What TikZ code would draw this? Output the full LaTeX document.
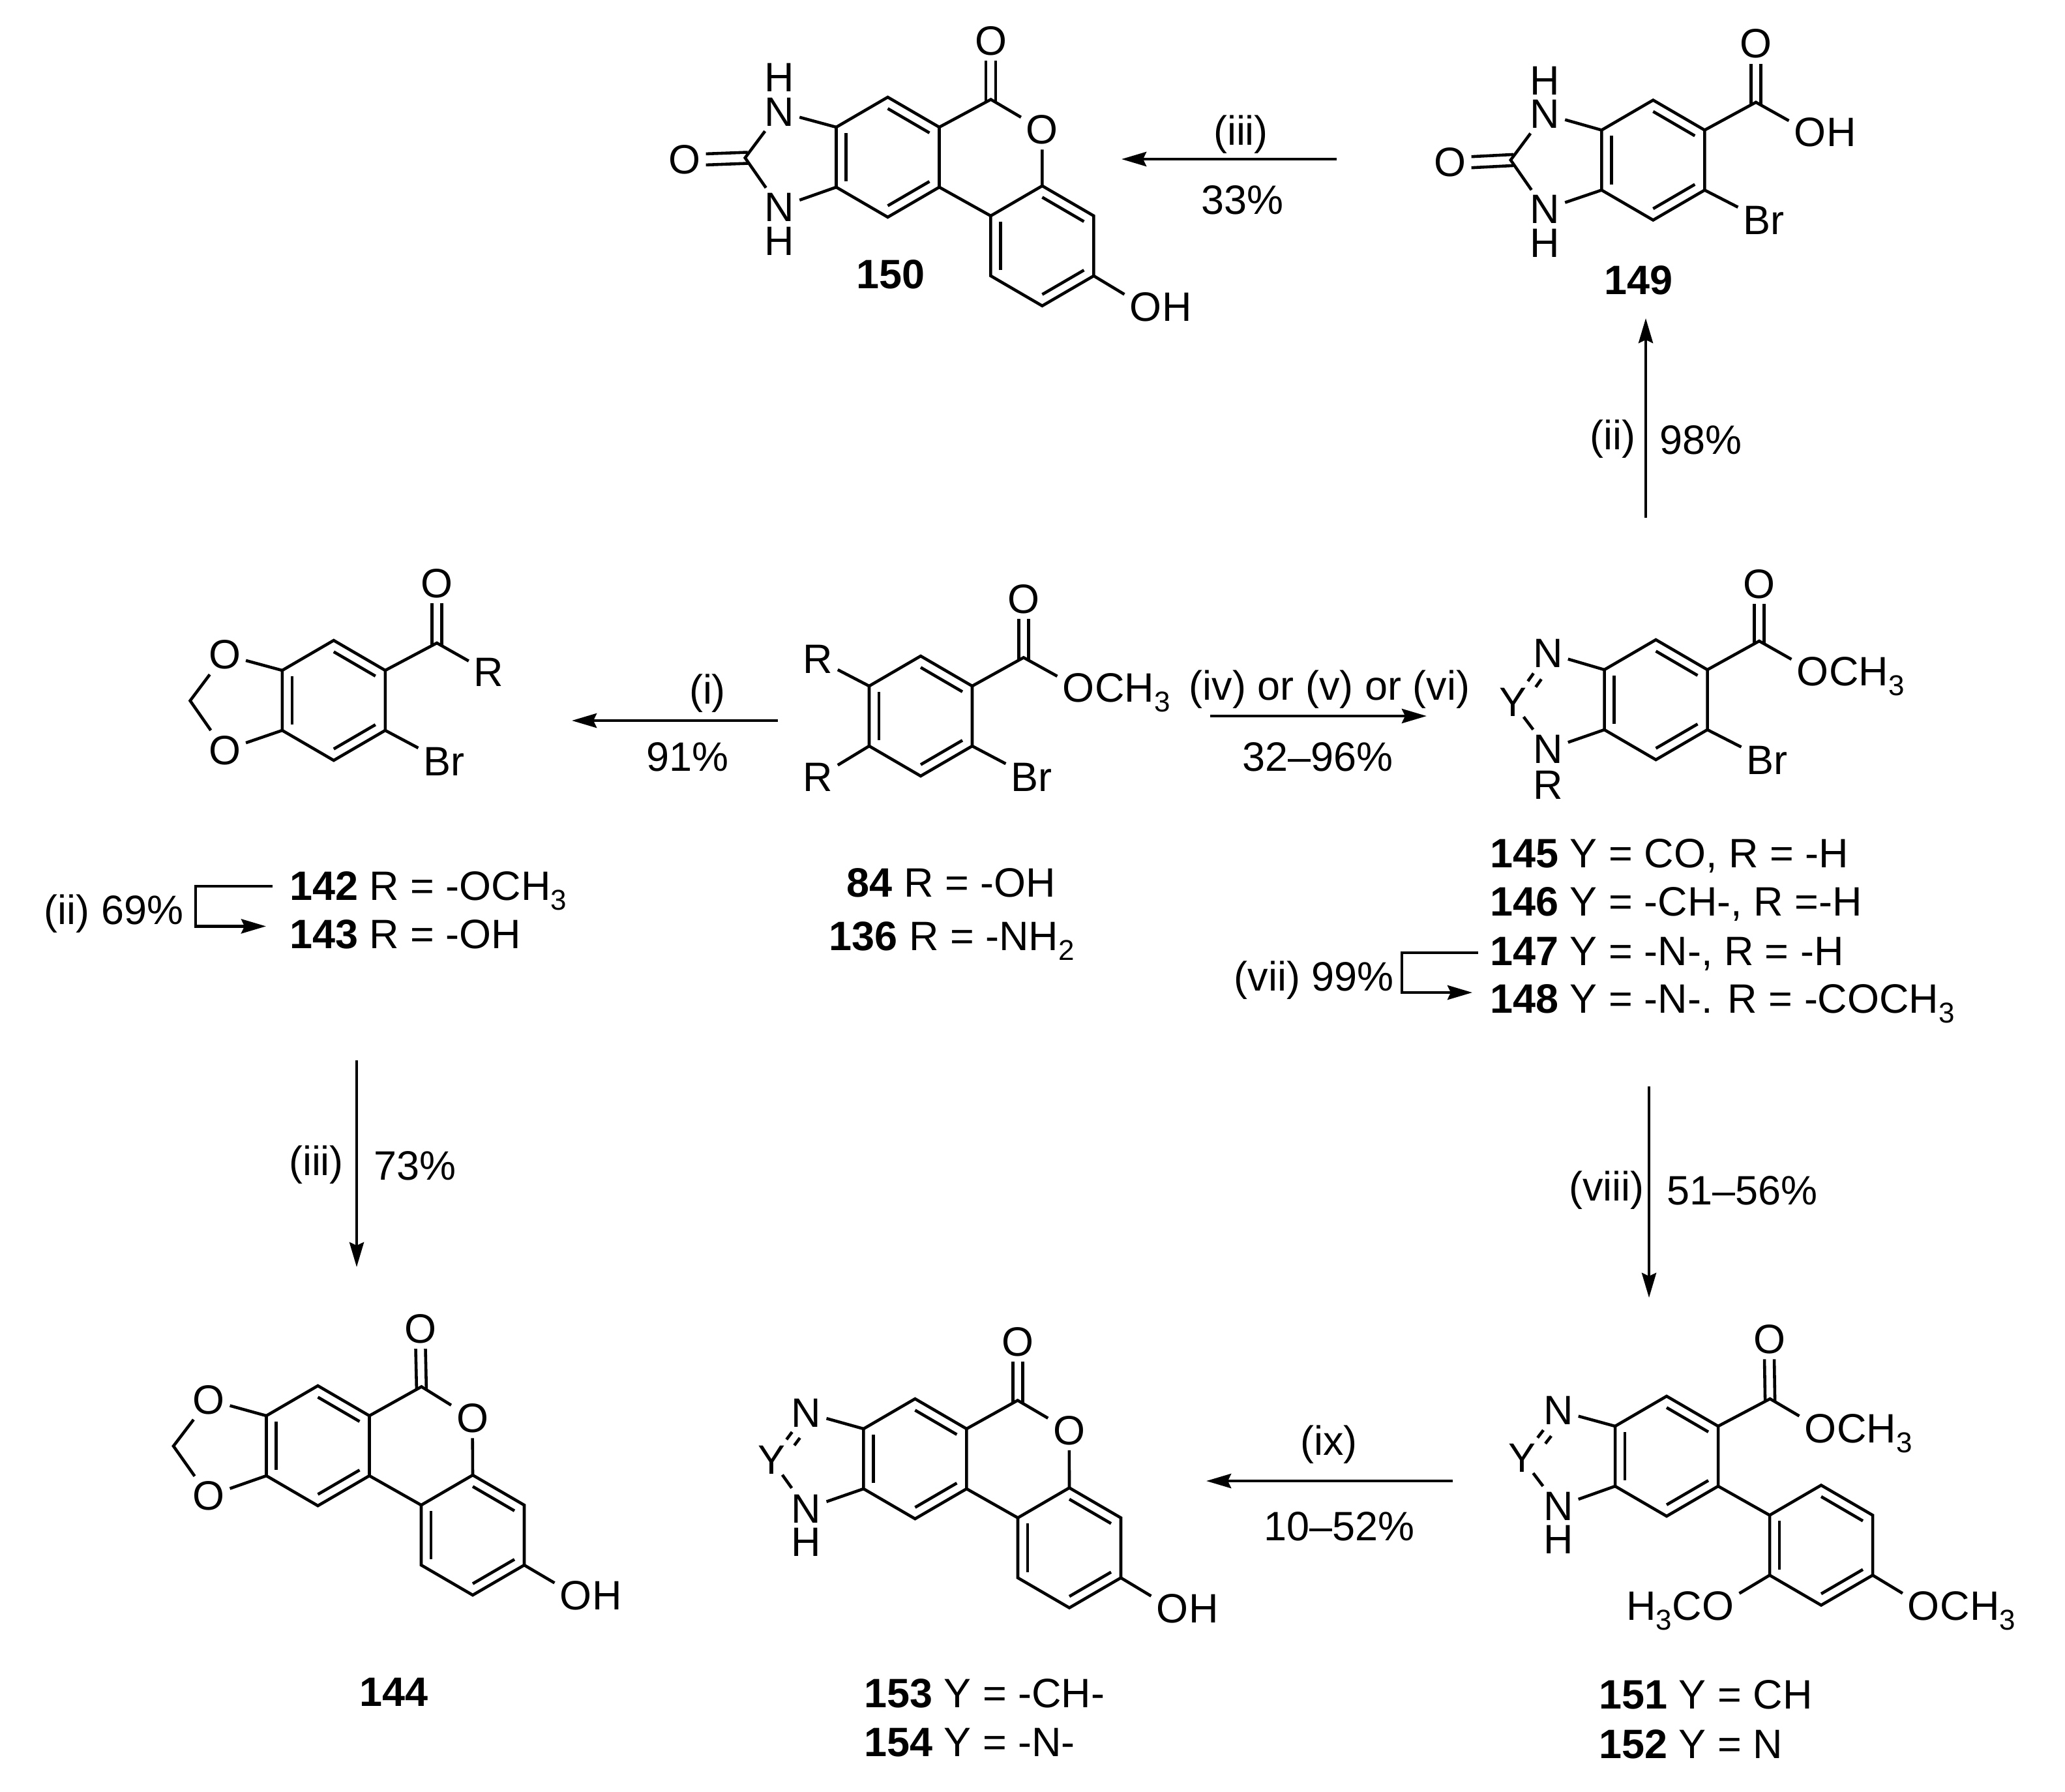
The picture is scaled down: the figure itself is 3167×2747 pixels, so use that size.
\documentclass[tikz,border=0pt]{standalone}
\usepackage{fontspec}
\setmainfont{Liberation Sans}
\usetikzlibrary{calc,arrows.meta}

\newcommand{\chemsub}[1]{\raisebox{-.15cm}{\fontsize{12.5}{13}\selectfont #1}}
\newcommand{\hexring}[3]{%
    \coordinate (#1c) at (#2,#3);
    \foreach \n/\dx/\dy in {1/0/-92,2/79/-46,3/79/46,4/0/92,5/-79/46,6/-79/-46}
        \coordinate (#1\n) at ($(#1c)+(\dx,\dy)$);
    \draw[bond] (#11) -- (#12) -- (#13) -- (#14) -- (#15) -- (#16) -- cycle;
    \foreach \a/\b in {1/2,3/4,5/6}
        \draw[bond] ($(#1\a)!.19!(#1c)$) -- ($(#1\b)!.19!(#1c)$);
}
\newcommand{\carbonyl}[2]{%
    \draw[bond] ($(#1)+(-7.5,4)$) -- ($(#2.south)+(-7.5,0)$);
    \draw[bond] ($(#1)+(7.5,4)$) -- ($(#2.south)+(7.5,0)$);
}
\newcommand{\urea}[2]{%
    \draw[bond] ($(#1)+(4,-8.5)$) -- ($(#2.east)+(0,-8.5)$);
    \draw[bond] ($(#1)+(4,8.5)$) -- ($(#2.east)+(0,8.5)$);
}
\newcommand{\ydash}[3]{%
    \draw[bond] ($(#1)!.43!(#2)$) -- ($(#1)!.59!(#2)$);
    \draw[bond] ($(#1)!.43!(#2)+(12,9)$) -- ($(#1)!.59!(#2)+(12,9)$);
    \draw[bond] ($(#1)!.31!(#3)$) -- ($(#1)!.58!(#3)$);
}

\begin{document}
\begin{tikzpicture}[x=0.01cm,y=-0.01cm,
    every node/.style={font=\fontsize{17.9}{20}\selectfont},
    bond/.style={line width=1.3pt},
    rxn/.style={line width=1.3pt,-{Stealth[length=.38cm,width=.22cm,inset=.05cm]}},
    atom/.style={inner sep=2.3pt,outer sep=0pt},
    tailr/.style={anchor=base west,inner sep=0pt,xshift=-2.3pt},
    taill/.style={anchor=base east,inner sep=0pt,xshift=2.3pt},
    lab/.style={anchor=base west,inner sep=0pt},
    txt/.style={inner sep=0pt}]
    \useasboundingbox (0,0) rectangle (3167,2747);

    % compound 150
    \hexring{pa}{1361.5}{241}
    \hexring{pb}{1598.4}{377}
    \coordinate (pco) at (1519.6,152.5);
    \coordinate (pu) at (1142.7,242);
    \node[atom] (po) at (1519.6,63) {O};
    \node[atom] (pr) at (1598.4,199) {O};
    \node[atom] (poh) at (1757,471) {O};
    \node[tailr] (pohh) at (poh.base east) {H};
    \node[atom] (pn1) at (1195.4,171.4) {N};
    \node[txt] (ph1) at (1195.4,118.7) {H};
    \node[atom] (pn2) at (1195.4,317.7) {N};
    \node[txt] (ph2) at (1195.4,369.7) {H};
    \node[atom] (puo) at (1050,244.4) {O};
    \draw[bond] (pa2) -- (pco) -- (pr) -- (pb1);
    \draw[bond] (pa3) -- (pb6);
    \draw[bond] (pb3) -- (poh);
    \draw[bond] (pa6) -- (pn1) -- (pu) -- (pn2) -- (pa5);
    \carbonyl{pco}{po}
    \urea{pu}{puo}
    \node[txt] (pname) at (1366,421) {\textbf{150}};

    % compound 149
    \hexring{qa}{2535.3}{245.5}
    \coordinate (qco) at (2692.9,156.8);
    \coordinate (qu) at (2316.8,245.4);
    \node[atom] (qo) at (2692.9,67.3) {O};
    \node[atom] (qoh) at (2776,203.3) {O};
    \node[tailr] (qohh) at (qoh.base east) {H};
    \node[atom] (qbr) at (2705,338) {Br};
    \node[atom] (qn1) at (2369.4,174.8) {N};
    \node[txt] (qh1) at (2369.4,123.4) {H};
    \node[atom] (qn2) at (2369.4,321) {N};
    \node[txt] (qh2) at (2369.4,373) {H};
    \node[atom] (quo) at (2224,248.7) {O};
    \draw[bond] (qa2) -- (qco) -- (qoh);
    \draw[bond] (qa3) -- (qbr);
    \draw[bond] (qa6) -- (qn1) -- (qu) -- (qn2) -- (qa5);
    \carbonyl{qco}{qo}
    \urea{qu}{quo}
    \node[txt] (qname) at (2513,430) {\textbf{149}};

    % compounds 142, 143
    \hexring{ra}{511.8}{1074}
    \coordinate (rco) at (670,986);
    \coordinate (rch) at (291.6,1074.5);
    \node[atom] (ro) at (670,895) {O};
    \node[atom] (rr) at (749.6,1031) {R};
    \node[atom] (rbr) at (681,1168) {Br};
    \node[atom] (ro1) at (344.5,1004) {O};
    \node[atom] (ro2) at (344.5,1150.3) {O};
    \draw[bond] (ra2) -- (rco) -- (rr);
    \draw[bond] (ra3) -- (rbr);
    \draw[bond] (ra6) -- (ro1) -- (rch) -- (ro2) -- (ra5);
    \carbonyl{rco}{ro}
    \node[lab] (rname1) at (443.4,1380) {\textbf{142} R = -OCH\chemsub{3}};
    \node[lab] (rname2) at (443.4,1454) {\textbf{143} R = -OH};
    \node[lab] (rstep) at (67,1417) {(ii) 69\%};
    \coordinate (rb1) at (418,1359);
    \coordinate (rb2) at (300,1359);
    \coordinate (rb3) at (300,1420.4);
    \coordinate (rb4) at (408,1420.4);
    \draw[rxn] (rb1) -- (rb2) -- (rb3) -- (rb4);

    % compounds 84, 136
    \hexring{sa}{1412}{1098}
    \coordinate (sco) at (1569.8,1008.3);
    \node[atom] (so) at (1569.8,918.4) {O};
    \node[atom] (som) at (1654,1055) {O};
    \node[tailr] (somh) at (som.base east) {CH\chemsub{3}};
    \node[atom] (sr1) at (1254,1011) {R};
    \node[atom] (sr2) at (1254,1192) {R};
    \node[atom] (sbr) at (1582,1192) {Br};
    \draw[bond] (sa2) -- (sco) -- (som);
    \draw[bond] (sa3) -- (sbr);
    \draw[bond] (sa6) -- (sr1);
    \draw[bond] (sa5) -- (sr2);
    \carbonyl{sco}{so}
    \node[lab] (sname1) at (1298,1375) {\textbf{84} R = -OH};
    \node[lab] (sname2) at (1271,1457) {\textbf{136} R = -NH\chemsub{2}};

    % compounds 145--148
    \hexring{ta}{2539.5}{1073}
    \coordinate (tco) at (2698,983);
    \node[atom] (to) at (2698,895.4) {O};
    \node[atom] (tom) at (2780,1029.4) {O};
    \node[tailr] (tomh) at (tom.base east) {CH\chemsub{3}};
    \node[atom] (tbr) at (2710,1165.7) {Br};
    \node[atom] (tn1) at (2374,1001.6) {N};
    \node[atom] (ty) at (2320,1077) {Y};
    \node[atom] (tn2) at (2374,1149) {N};
    \node[txt] (tr) at (2374,1204) {R};
    \draw[bond] (ta2) -- (tco) -- (tom);
    \draw[bond] (ta3) -- (tbr);
    \draw[bond] (ta6) -- (tn1);
    \draw[bond] (ta5) -- (tn2);
    \carbonyl{tco}{to}
    \ydash{ty}{tn1}{tn2}
    \node[lab] (tname1) at (2284.7,1330.7) {\textbf{145} Y = CO, R = -H};
    \node[lab] (tname2) at (2284.7,1404.8) {\textbf{146} Y = -CH-, R =-H};
    \node[lab] (tname3) at (2284.7,1480) {\textbf{147} Y = -N-, R = -H};
    \node[lab] (tname4) at (2284.7,1553) {\textbf{148} Y = -N-. R = -COCH\chemsub{3}};
    \node[lab] (tstep) at (1892,1519) {(vii) 99\%};
    \coordinate (tb1) at (2267,1461);
    \coordinate (tb2) at (2150,1461);
    \coordinate (tb3) at (2150,1522);
    \coordinate (tb4) at (2258,1522);
    \draw[rxn] (tb1) -- (tb2) -- (tb3) -- (tb4);

    % compound 144
    \hexring{ua}{487.5}{2217}
    \hexring{ub}{725}{2354}
    \coordinate (uco) at (646.4,2126.4);
    \coordinate (uch) at (266,2217.5);
    \node[atom] (uo) at (645,2038) {O};
    \node[atom] (ur) at (724.5,2175) {O};
    \node[atom] (uoh) at (883,2446.5) {O};
    \node[tailr] (uohh) at (uoh.base east) {H};
    \node[atom] (uo1) at (320,2146.5) {O};
    \node[atom] (uo2) at (320,2294) {O};
    \draw[bond] (ua2) -- (uco) -- (ur) -- (ub1);
    \draw[bond] (ua3) -- (ub6);
    \draw[bond] (ub3) -- (uoh);
    \draw[bond] (ua6) -- (uo1) -- (uch) -- (uo2) -- (ua5);
    \carbonyl{uco}{uo}
    \node[txt] (uname) at (604,2595) {\textbf{144}};

    % compounds 153, 154
    \hexring{va}{1403.4}{2237}
    \hexring{vb}{1640}{2373.5}
    \coordinate (vco) at (1560.7,2147.4);
    \node[atom] (vo) at (1560.7,2058) {O};
    \node[atom] (vr) at (1639.8,2193.8) {O};
    \node[atom] (voh) at (1798,2467) {O};
    \node[tailr] (vohh) at (voh.base east) {H};
    \node[atom] (vn1) at (1236.7,2166.5) {N};
    \node[atom] (vy) at (1183.2,2238.3) {Y};
    \node[atom] (vn2) at (1236.7,2313.4) {N};
    \node[txt] (vh) at (1236.7,2365) {H};
    \draw[bond] (va2) -- (vco) -- (vr) -- (vb1);
    \draw[bond] (va3) -- (vb6);
    \draw[bond] (vb3) -- (voh);
    \draw[bond] (va6) -- (vn1);
    \draw[bond] (va5) -- (vn2);
    \carbonyl{vco}{vo}
    \ydash{vy}{vn1}{vn2}
    \node[lab] (vname1) at (1324.5,2618.5) {\textbf{153} Y = -CH-};
    \node[lab] (vname2) at (1324.5,2693.6) {\textbf{154} Y = -N-};

    % compounds 151, 152
    \hexring{wa}{2556}{2233}
    \hexring{wb}{2793}{2369.5}
    \coordinate (wco) at (2714.6,2145);
    \node[atom] (wo) at (2713.5,2054) {O};
    \node[atom] (wom) at (2792,2190.5) {O};
    \node[tailr] (womh) at (wom.base east) {CH\chemsub{3}};
    \node[atom] (wn1) at (2389.9,2163.2) {N};
    \node[atom] (wy) at (2334,2236) {Y};
    \node[atom] (wn2) at (2389.9,2310) {N};
    \node[txt] (wh) at (2389.9,2361) {H};
    \node[atom] (wo1) at (2634.9,2463) {O};
    \node[taill] (wo1h) at (wo1.base west) {H\chemsub{3}C};
    \node[atom] (wo2) at (2950.4,2463) {O};
    \node[tailr] (wo2h) at (wo2.base east) {CH\chemsub{3}};
    \draw[bond] (wa2) -- (wco) -- (wom);
    \draw[bond] (wa3) -- (wb6);
    \draw[bond] (wa6) -- (wn1);
    \draw[bond] (wa5) -- (wn2);
    \draw[bond] (wb5) -- (wo1);
    \draw[bond] (wb3) -- (wo2);
    \carbonyl{wco}{wo}
    \ydash{wy}{wn1}{wn2}
    \node[lab] (wname1) at (2451.7,2620) {\textbf{151} Y = CH};
    \node[lab] (wname2) at (2451.7,2696) {\textbf{152} Y = N};

    % reaction arrows
    \coordinate (a1s) at (2050,244);
    \coordinate (a1e) at (1720,244);
    \draw[rxn] (a1s) -- (a1e);
    \node[txt] (a1t) at (1903,206) {(iii)};
    \node[txt] (a1b) at (1905,307) {33\%};
    \coordinate (a2s) at (2524,794);
    \coordinate (a2e) at (2524,488);
    \draw[rxn] (a2s) -- (a2e);
    \node[txt] (a2t) at (2473,673) {(ii)};
    \node[txt] (a2b) at (2608,675) {98\%};
    \coordinate (a3s) at (1193.4,1105);
    \coordinate (a3e) at (877,1105);
    \draw[rxn] (a3s) -- (a3e);
    \node[txt] (a3t) at (1085,1063) {(i)};
    \node[txt] (a3b) at (1054,1161) {91\%};
    \coordinate (a4s) at (1856,1098);
    \coordinate (a4e) at (2188,1098);
    \draw[rxn] (a4s) -- (a4e);
    \node[txt] (a4t) at (2039,1057) {(iv) or (v) or (vi)};
    \node[txt] (a4b) at (2021,1161) {32--96\%};
    \coordinate (a5s) at (547,1626);
    \coordinate (a5e) at (547,1943);
    \draw[rxn] (a5s) -- (a5e);
    \node[txt] (a5t) at (485,1786) {(iii)};
    \node[txt] (a5b) at (636,1788) {73\%};
    \coordinate (a6s) at (2529,1666);
    \coordinate (a6e) at (2529,1990);
    \draw[rxn] (a6s) -- (a6e);
    \node[txt] (a6t) at (2464,1825) {(viii)};
    \node[txt] (a6b) at (2672,1826) {51--56\%};
    \coordinate (a7s) at (2228,2271);
    \coordinate (a7e) at (1850,2271);
    \draw[rxn] (a7s) -- (a7e);
    \node[txt] (a7t) at (2038,2215) {(ix)};
    \node[txt] (a7b) at (2054,2341) {10--52\%};
\end{tikzpicture}
\end{document}
